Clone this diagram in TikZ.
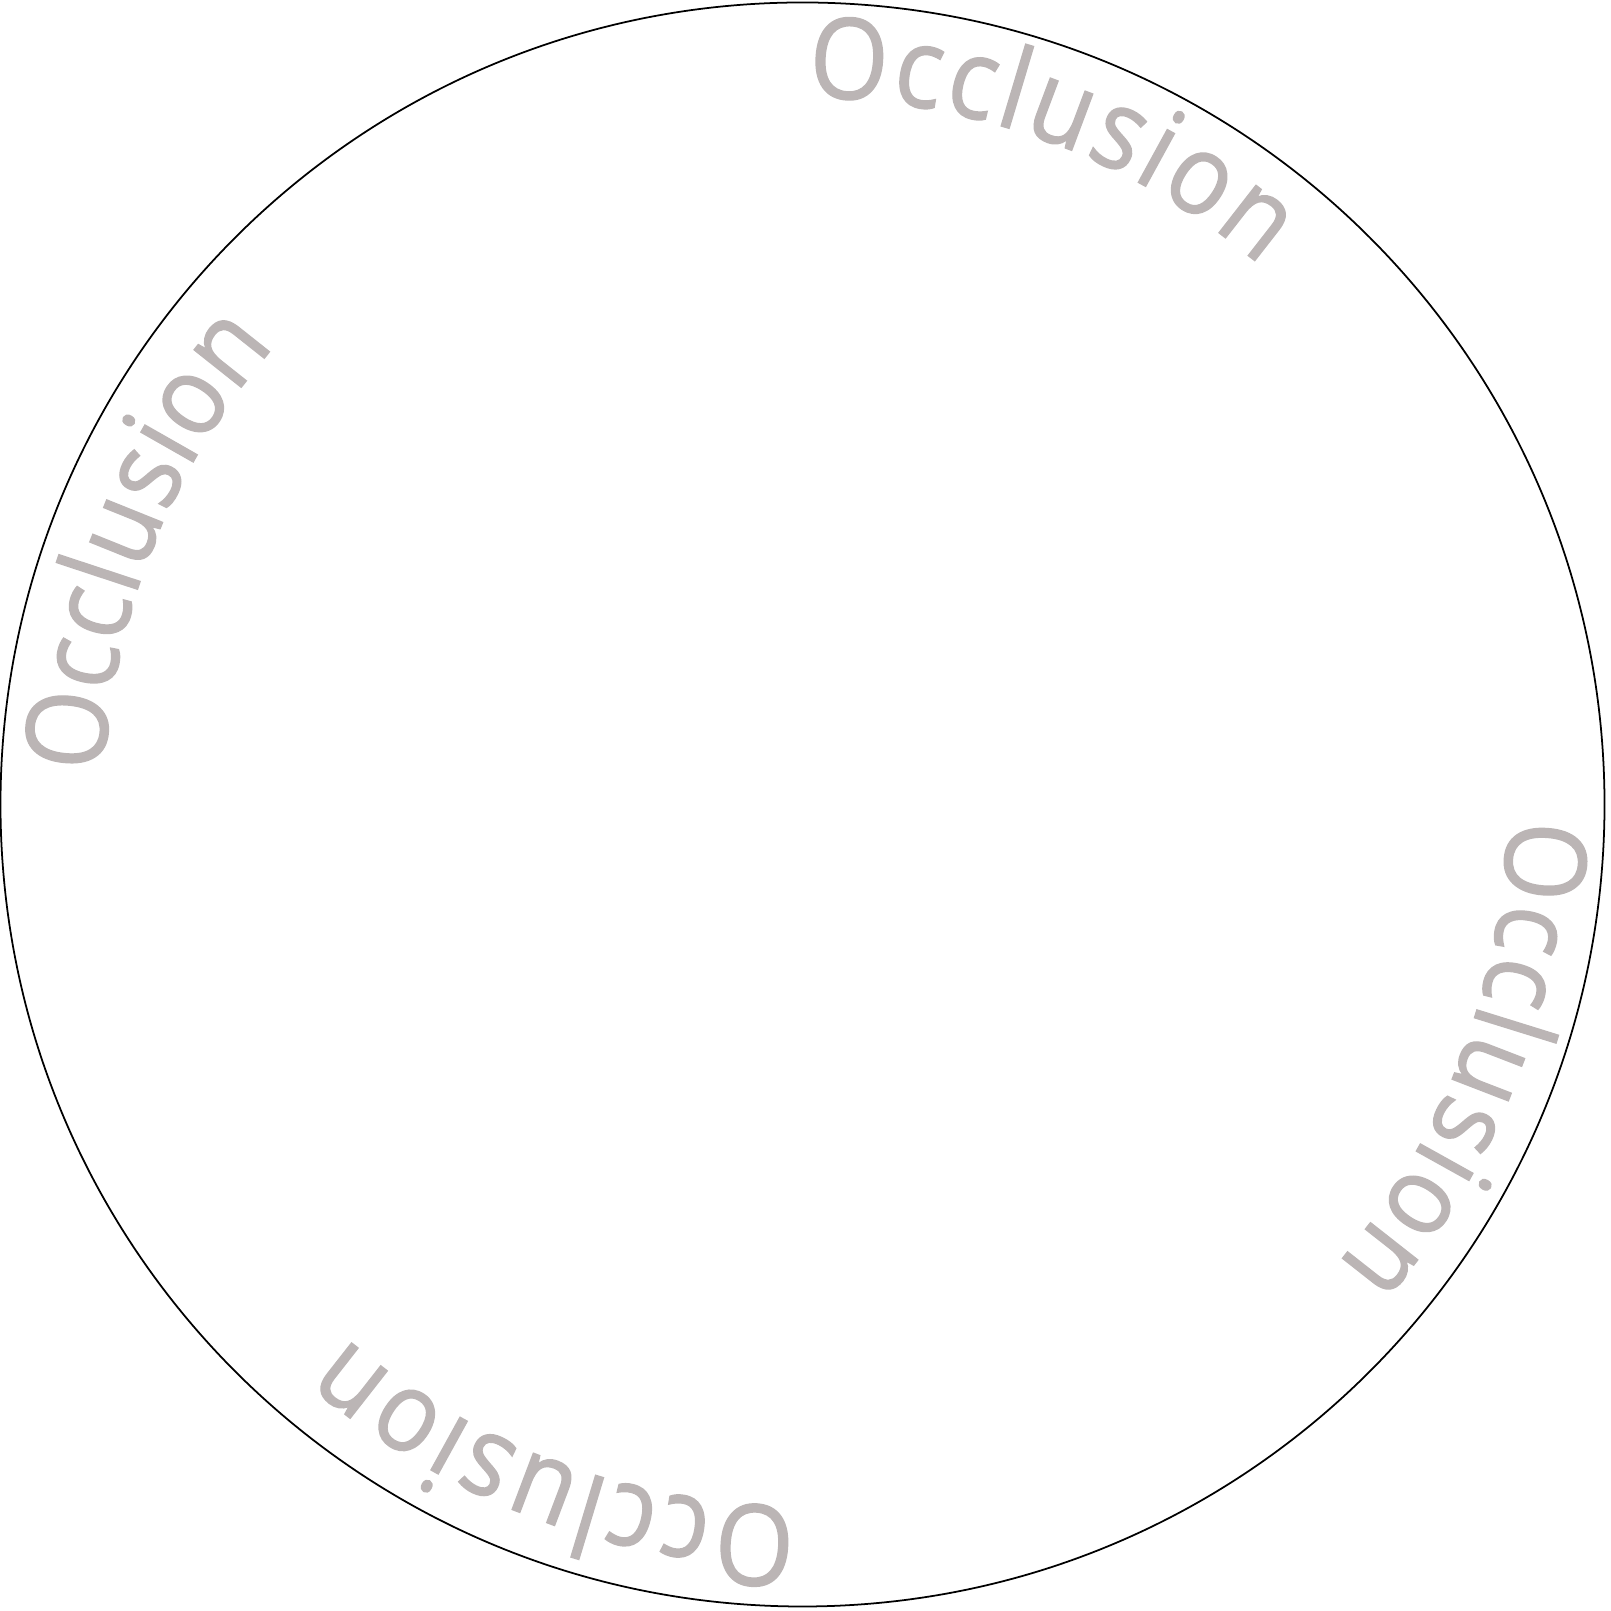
\documentclass[tikz,border=0pt]{standalone}
\usepackage{fontspec}
\setmainfont{Open Sans}
\usetikzlibrary{decorations.text}
\definecolor{occ}{RGB}{187,181,181}
\newfontfamily\occfamily[FakeStretch=0.9, FakeBold=1.2]{Open Sans}
\newcommand{\occfont}{\occfamily\fontsize{32pt}{36pt}\selectfont}
\tikzset{
  rim/.style={draw=black, line width=0.5pt},
  occlabel/.style={decorate, decoration={text along path,
      text={|\occfont\color{occ}|Occlusion}, text align={fit to path}}}
}
\begin{document}
\begin{tikzpicture}
\useasboundingbox (0,0) rectangle (16.11,16.11);
\coordinate (C) at (8.025,8.065);
\draw[rim] (C) circle[radius=8.02];
% top
\path[occlabel] (C) ++(89.6:7.07) arc[start angle=89.6, end angle=49.6, radius=7.07];
% left
\path[occlabel] (C) ++(177.4:6.99) arc[start angle=177.4, end angle=139.0, radius=6.99];
% bottom
\path[occlabel] (C) ++(269.5:7.02) arc[start angle=269.5, end angle=229.4, radius=7.02];
% right
\path[occlabel] (C) ++(358.8:7.05) arc[start angle=358.8, end angle=319.3, radius=7.05];
\end{tikzpicture}
\end{document}
